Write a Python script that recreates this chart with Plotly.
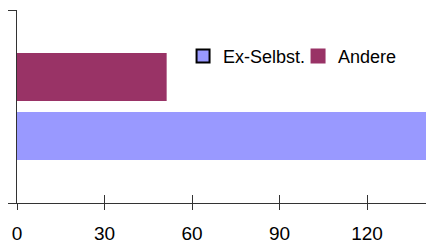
import plotly.graph_objects as go

categories = [""]
series_names = ["Ex-Selbst.", "Andere"]
ex_selbst = [141]
andere = [51.3]
tick_vals = [0, 30, 60, 90, 120]
tick_text = ["0", "30", "60", "90", "120"]

colors = {"Ex-Selbst.": "#9999FF", "Andere": "#993366"}
font = dict(family="Liberation Sans, Arial, sans-serif", size=19, color="#000000")
legend_font = dict(family="Liberation Sans, Arial, sans-serif", size=18, color="#000000")

fig = go.Figure()
for name, vals in zip(series_names, [ex_selbst, andere]):
    fig.add_trace(go.Bar(
        x=vals, y=categories, orientation="h", name=name,
        marker=dict(color=colors[name], line=dict(width=0)),
        showlegend=False,
    ))
# legend proxies
for name in series_names:
    fig.add_trace(go.Scatter(
        x=[None], y=[None], mode="markers", name=name,
        marker=dict(symbol="square", size=13, color=colors[name],
                    line=dict(color="#000000" if name == "Ex-Selbst." else colors[name], width=2)),
        showlegend=True,
    ))

fig.update_layout(
    width=426, height=245,
    margin=dict(l=17, r=0, t=10, b=42, autoexpand=False),
    paper_bgcolor="white", plot_bgcolor="white",
    barmode="group", bargap=0.39, bargroupgap=0.186,
    font=font,
    legend=dict(orientation="h", x=0.406, y=0.76, xanchor="left", yanchor="middle",
                font=legend_font, entrywidth=70, entrywidthmode="pixels",
                bgcolor="rgba(0,0,0,0)", traceorder="normal", itemwidth=30,
                tracegroupgap=0),
    xaxis=dict(range=[0, 140.2], tickvals=tick_vals, ticktext=tick_text,
               ticks="outside", ticklen=6, tickcolor="#333333", tickwidth=1,
               showline=True, linecolor="#333333", linewidth=1,
               showgrid=False, zeroline=False, fixedrange=True, automargin=False,
               ticklabelstandoff=7, tickfont=font),
    xaxis2=dict(range=[0, 140.2], tickvals=tick_vals, ticktext=tick_text,
                overlaying="x", side="bottom", anchor="y", automargin=False,
                ticks="inside", ticklen=8, tickcolor="#333333", tickwidth=1,
                showticklabels=False, showline=False, showgrid=False, zeroline=False),
    yaxis=dict(type="category", range=[-0.5, 0.5], tickson="boundaries",
               ticks="outside", ticklen=8, tickcolor="#333333", tickwidth=1,
               showline=True, linecolor="#333333", linewidth=1, automargin=False,
               showticklabels=False, showgrid=False, zeroline=False),
)
# dummy trace to activate xaxis2
fig.add_trace(go.Scatter(x=[None], y=[None], xaxis="x2", showlegend=False, hoverinfo="skip"))

fig.write_html("out.html", config={"displayModeBar": False},
               post_script="document.body.style.margin='0';document.body.style.padding='0';")
